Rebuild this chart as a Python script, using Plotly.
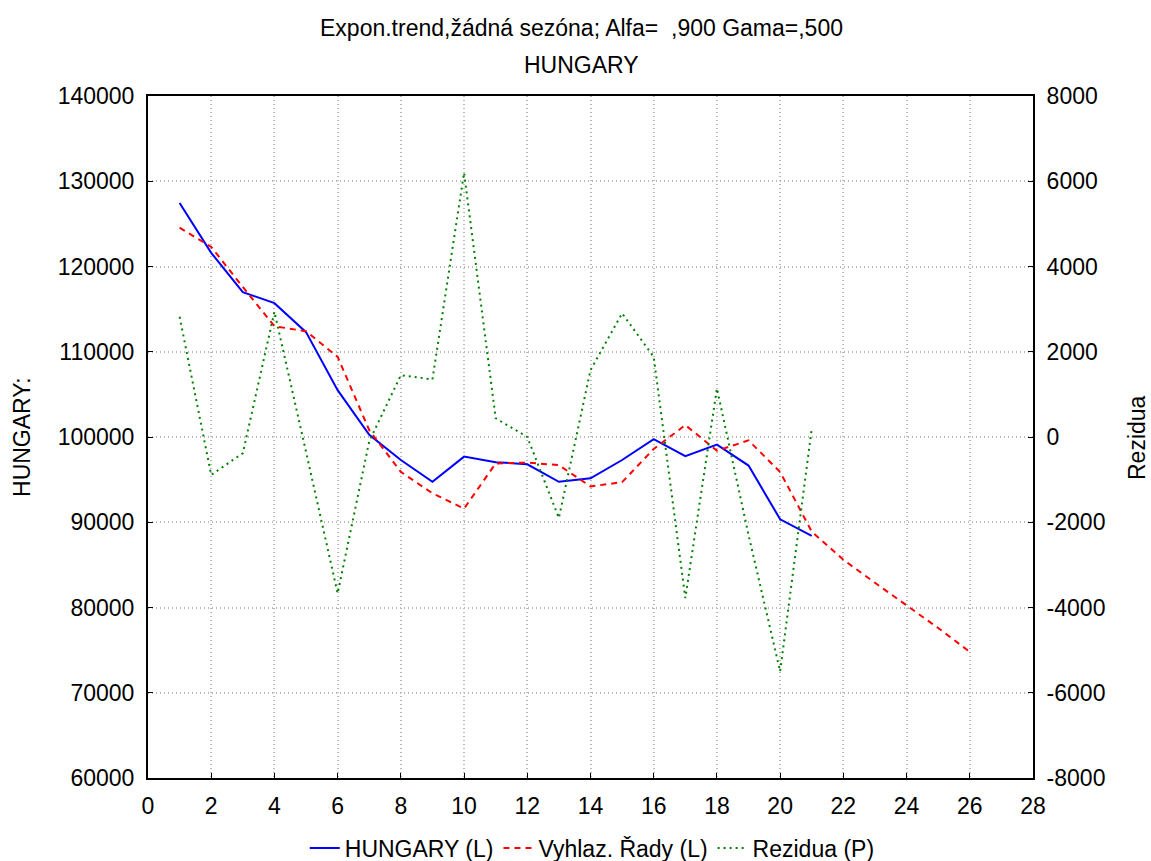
import plotly.graph_objects as go

# ---- data ----
x_actual = list(range(1, 22))
hungary = [127450, 121600, 117000, 115700, 112300, 105500, 100250, 97300, 94750, 97700,
           97050, 96800, 94750, 95150, 97300, 99750, 97750, 99100, 96650, 90350, 88400]

x_smooth = list(range(1, 27))
smoothed = [124550, 122300, 117600, 113000, 112400, 109400, 100800, 95900, 93400, 91600,
            96900, 97000, 96700, 94200, 94700, 98600, 101400, 98400, 99600, 95900,
            88900, 85600, 82900, 80300, 77600, 74800]

x_resid = list(range(1, 22))
residuals = [2820, -890, -380, 2940, -350, -3670, -100, 1450, 1350, 6200,
             440, 0, -1900, 1570, 2900, 1880, -3780, 1140, -2300, -5500, 200]

left_tickvals = [60000, 70000, 80000, 90000, 100000, 110000, 120000, 130000, 140000]
left_ticktext = ["60000", "70000", "80000", "90000", "100000", "110000", "120000", "130000", "140000"]
right_tickvals = [-8000, -6000, -4000, -2000, 0, 2000, 4000, 6000, 8000]
right_ticktext = ["-8000", "-6000", "-4000", "-2000", "0", "2000", "4000", "6000", "8000"]

title_line1 = "Expon.trend,žádná sezóna; Alfa=  ,900 Gama=,500"
title_line2 = "HUNGARY"
left_title = "HUNGARY:"
right_title = "Rezidua"
names = ["HUNGARY (L)", "Vyhlaz. Řady (L)", "Rezidua (P)"]

FONT = "Liberation Sans, Arial, sans-serif"
TXT = 23
TICK = 23

fig = go.Figure()
fig.add_trace(go.Scatter(x=x_actual, y=hungary, mode="lines", name=names[0],
                         line=dict(color="#0000ff", width=2), yaxis="y"))
fig.add_trace(go.Scatter(x=x_smooth, y=smoothed, mode="lines", name=names[1],
                         line=dict(color="#ff0000", width=2, dash="6px,5px"), yaxis="y"))
fig.add_trace(go.Scatter(x=x_resid, y=residuals, mode="lines", name=names[2],
                         line=dict(color="#008000", width=2, dash="2px,4px"), yaxis="y2"))

grid = dict(showgrid=True, gridcolor="#b8b8b8", griddash="1px,3px", gridwidth=1.5)
axis_common = dict(showline=True, linecolor="black", linewidth=2, ticks="inside",
                   ticklen=5, tickcolor="black", zeroline=False,
                   tickfont=dict(family=FONT, size=TICK, color="black"))

fig.update_layout(
    width=1151, height=861,
    margin=dict(l=148, r=118, t=96, b=83, autoexpand=False),
    paper_bgcolor="white", plot_bgcolor="white",
    font=dict(family=FONT, size=TXT, color="black"),
    showlegend=True,
    legend=dict(orientation="h", x=0.502, xanchor="center", yref="container",
                y=0.015, yanchor="middle",
                font=dict(family=FONT, size=TXT, color="black"), bgcolor="rgba(0,0,0,0)"),
    xaxis=dict(range=[0, 28], dtick=2, tick0=0, mirror=True, ticklabelstandoff=6,
               **grid, **axis_common),
    yaxis=dict(range=[60000, 140000], tickvals=left_tickvals, ticktext=left_ticktext,
               mirror=False, ticklabelstandoff=7, **grid, **axis_common),
    yaxis2=dict(range=[-8000, 8000], tickvals=right_tickvals, ticktext=right_ticktext,
                overlaying="y", side="right", showgrid=False, ticklabelstandoff=7,
                **axis_common),
    annotations=[
        dict(text=title_line1, xref="paper", yref="paper", x=0.49, y=1.0997,
             showarrow=False, font=dict(family=FONT, size=TXT, color="black"),
             xanchor="center", yanchor="middle"),
        dict(text=title_line2, xref="paper", yref="paper", x=0.49, y=1.0455,
             showarrow=False, font=dict(family=FONT, size=TXT, color="black"),
             xanchor="center", yanchor="middle"),
        dict(text=left_title, xref="paper", yref="paper", x=-0.1424, y=0.5,
             textangle=-90, showarrow=False,
             font=dict(family=FONT, size=TXT, color="black"),
             xanchor="center", yanchor="middle"),
        dict(text=right_title, xref="paper", yref="paper", x=1.1175, y=0.5,
             textangle=-90, showarrow=False,
             font=dict(family=FONT, size=TXT, color="black"),
             xanchor="center", yanchor="middle"),
    ],
)

fig.write_html("out.html")
